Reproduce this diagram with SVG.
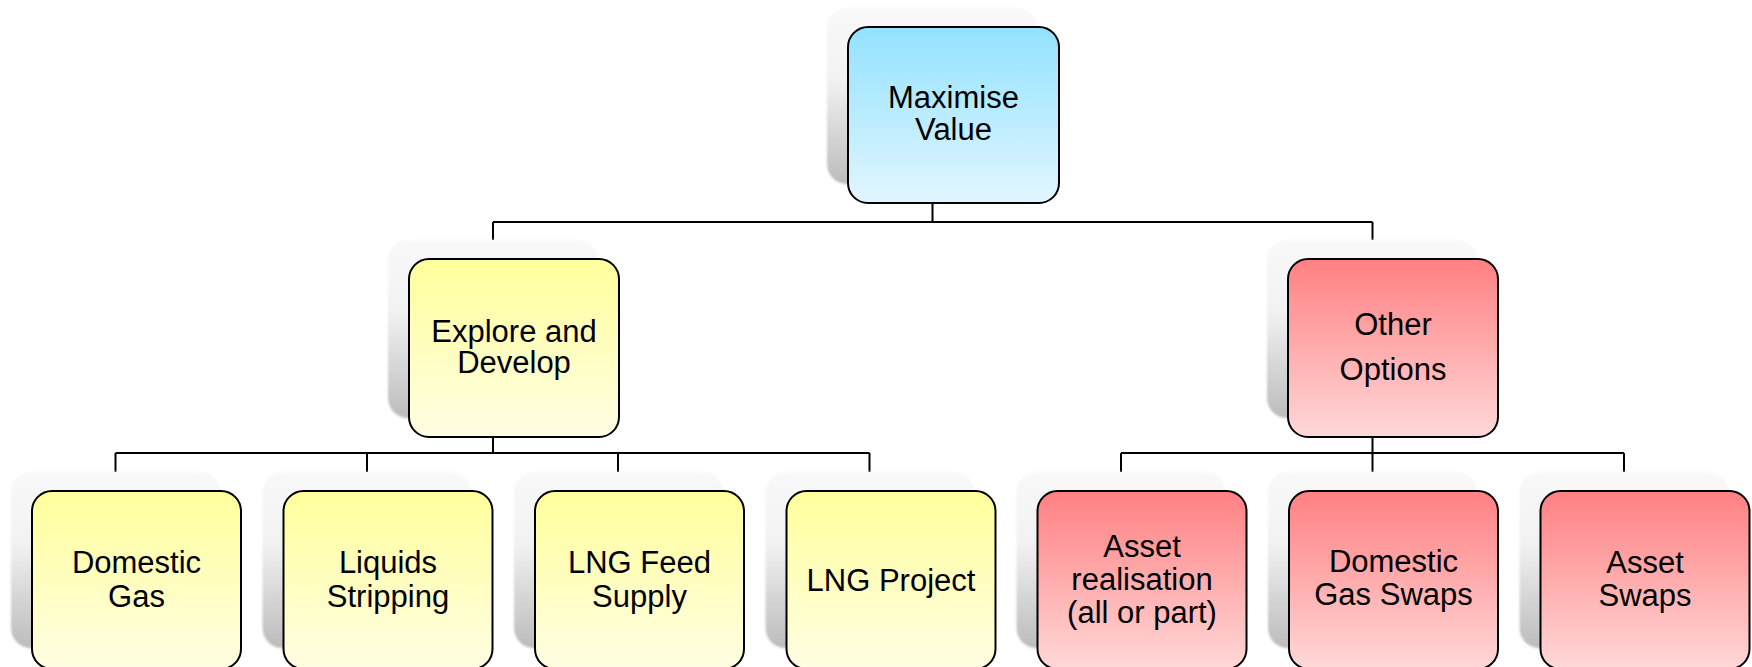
<svg xmlns="http://www.w3.org/2000/svg" width="1752" height="667" viewBox="0 0 1752 667">
  <defs>
    <linearGradient id="gShadow" x1="0" y1="0" x2="0" y2="1">
      <stop offset="0" stop-color="#f9f9f9"/>
      <stop offset="0.4" stop-color="#f2f2f2"/>
      <stop offset="1" stop-color="#bcbcbc"/>
    </linearGradient>
    <linearGradient id="gBlue" x1="0" y1="0" x2="0" y2="1">
      <stop offset="0" stop-color="#93e2ff"/>
      <stop offset="1" stop-color="#e2f6ff"/>
    </linearGradient>
    <linearGradient id="gYellow" x1="0" y1="0" x2="0" y2="1">
      <stop offset="0" stop-color="#ffff9c"/>
      <stop offset="1" stop-color="#fffde2"/>
    </linearGradient>
    <linearGradient id="gRed" x1="0" y1="0" x2="0" y2="1">
      <stop offset="0" stop-color="#ff8082"/>
      <stop offset="1" stop-color="#ffd8d8"/>
    </linearGradient>
    <filter id="soft" x="-10%" y="-10%" width="120%" height="120%">
      <feGaussianBlur stdDeviation="1.2"/>
    </filter>
  </defs>
  <style>
    .shadow { fill: url(#gShadow); filter: url(#soft); }
    .box { stroke: #000; stroke-width: 2; }
    .blue { fill: url(#gBlue); }
    .yellow { fill: url(#gYellow); }
    .red { fill: url(#gRed); }
    .label { font-family: "Liberation Sans", Arial, sans-serif; font-size: 31px; fill: #000; text-anchor: middle; }
    .conn { fill: none; stroke: #000; stroke-width: 2; }
  </style>

  <rect width="1752" height="667" fill="#ffffff"/>

  <!-- connectors -->
  <g id="connectors">
    <path class="conn" d="M932.5 203 V222 M493 222 H1372.5 M493 222 V240 M1372.5 222 V240"/>
    <path class="conn" d="M493 437 V453 M115.5 453 H869.5 M115.5 453 V472 M367 453 V472 M618 453 V472 M869.5 453 V472"/>
    <path class="conn" d="M1372.5 437 V472 M1121 453 H1624 M1121 453 V472 M1624 453 V472"/>
  </g>

  <!-- root -->
  <g id="maximise-value">
    <rect class="shadow" x="827" y="8" width="210" height="176" rx="20"/>
    <rect class="box blue" x="848" y="27" width="211" height="176" rx="20"/>
    <text class="label" x="953.5" y="108">Maximise</text>
    <text class="label" x="953.5" y="140">Value</text>
  </g>

  <!-- second level -->
  <g id="explore-develop">
    <rect class="shadow" x="388" y="240" width="210" height="178" rx="20"/>
    <rect class="box yellow" x="409" y="259" width="210" height="178" rx="20"/>
    <text class="label" x="514" y="342">Explore and</text>
    <text class="label" x="514" y="373">Develop</text>
  </g>

  <g id="other-options">
    <rect class="shadow" x="1267" y="240" width="210" height="178" rx="20"/>
    <rect class="box red" x="1288" y="259" width="210" height="178" rx="20"/>
    <text class="label" x="1393" y="335">Other</text>
    <text class="label" x="1393" y="380">Options</text>
  </g>

  <!-- third level -->
  <g id="domestic-gas">
    <rect class="shadow" x="11" y="472" width="209" height="176" rx="20"/>
    <rect class="box yellow" x="32" y="491" width="209" height="178" rx="20"/>
    <text class="label" x="136.5" y="573">Domestic</text>
    <text class="label" x="136.5" y="607">Gas</text>
  </g>

  <g id="liquids-stripping">
    <rect class="shadow" x="262.5" y="472" width="209" height="176" rx="20"/>
    <rect class="box yellow" x="283.5" y="491" width="209" height="178" rx="20"/>
    <text class="label" x="388" y="573">Liquids</text>
    <text class="label" x="388" y="607">Stripping</text>
  </g>

  <g id="lng-feed-supply">
    <rect class="shadow" x="514" y="472" width="209" height="176" rx="20"/>
    <rect class="box yellow" x="535" y="491" width="209" height="178" rx="20"/>
    <text class="label" x="639.5" y="573">LNG Feed</text>
    <text class="label" x="639.5" y="607">Supply</text>
  </g>

  <g id="lng-project">
    <rect class="shadow" x="765.5" y="472" width="209" height="176" rx="20"/>
    <rect class="box yellow" x="786.5" y="491" width="209" height="178" rx="20"/>
    <text class="label" x="891" y="591">LNG Project</text>
  </g>

  <g id="asset-realisation">
    <rect class="shadow" x="1016.5" y="472" width="209" height="176" rx="20"/>
    <rect class="box red" x="1037.5" y="491" width="209" height="178" rx="20"/>
    <text class="label" x="1142" y="557">Asset</text>
    <text class="label" x="1142" y="590">realisation</text>
    <text class="label" x="1142" y="623">(all or part)</text>
  </g>

  <g id="domestic-gas-swaps">
    <rect class="shadow" x="1268" y="472" width="209" height="176" rx="20"/>
    <rect class="box red" x="1289" y="491" width="209" height="178" rx="20"/>
    <text class="label" x="1393.5" y="572">Domestic</text>
    <text class="label" x="1393.5" y="605">Gas Swaps</text>
  </g>

  <g id="asset-swaps">
    <rect class="shadow" x="1519.5" y="472" width="209" height="176" rx="20"/>
    <rect class="box red" x="1540.5" y="491" width="209" height="178" rx="20"/>
    <text class="label" x="1645" y="573">Asset</text>
    <text class="label" x="1645" y="606">Swaps</text>
  </g>
</svg>
